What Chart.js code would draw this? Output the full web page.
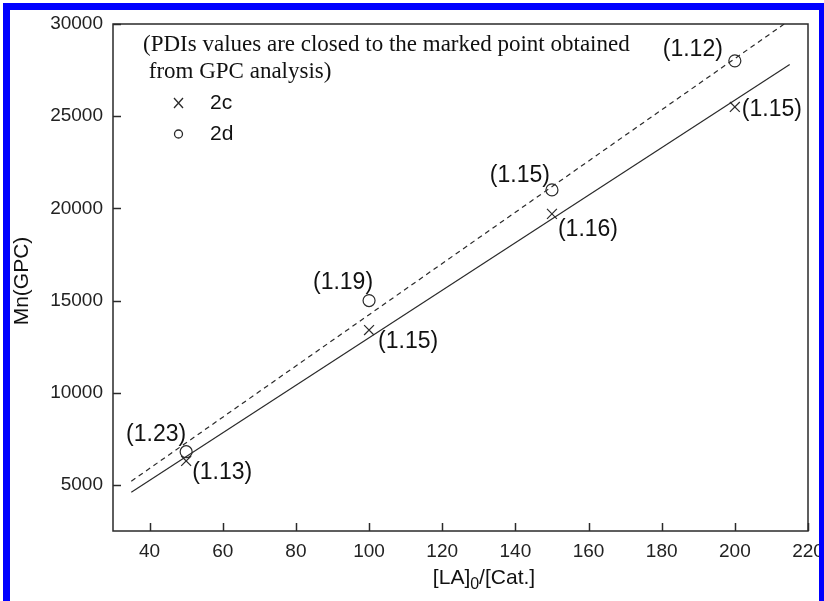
<!DOCTYPE html>
<html><head><meta charset="utf-8">
<script src="https://cdn.jsdelivr.net/npm/chart.js@4.4.0/dist/chart.umd.min.js"></script>
<style>
html,body{margin:0;padding:0;background:#fff;overflow:hidden}
#wrap{position:relative;width:824px;height:601px}
#frame{position:absolute;left:3px;top:3px;width:809px;height:640px;border:7px solid #0000ff;pointer-events:none}
canvas{display:block}
</style></head><body>
<div id="wrap"><canvas id="c" width="824" height="601"></canvas><div id="frame"></div></div>
<script>
// ---- data ----
const ratio = [50, 100, 150, 200];
const mn2c = [6300, 13400, 19700, 25500];
const mn2d = [6800, 15000, 21000, 28000];
const pdi2c = ['(1.13)', '(1.15)', '(1.16)', '(1.15)'];
const pdi2d = ['(1.23)', '(1.19)', '(1.15)', '(1.12)'];
const fit2cX = [35, 215];
const fit2cY = [4600, 27800];
const fit2dX = [35, 213.5];
const fit2dY = [5200, 30000];
const xTicks = [40, 60, 80, 100, 120, 140, 160, 180, 200, 220];
const yTicks = [5000, 10000, 15000, 20000, 25000, 30000];
const seriesNames = ['2c', '2d'];
const noteLines = ['(PDIs values are closed to the marked point obtained', ' from GPC analysis)'];
const yTitle = 'Mn(GPC)';
const xTitleParts = ['[LA]', '0', '/[Cat.]'];

// ---- presentation ----
const INK = '#2a2a2a';
const SANS = '"Liberation Sans", Arial, sans-serif';
const SERIF = '"Liberation Serif", "Times New Roman", serif';
const toPts = (xs, ys) => xs.map((x, i) => ({x: x, y: ys[i]}));

// label placement per point: [dx, dy, align]
const place2c = [[6, 12, 'left'], [9, 12, 'left'], [6, 16, 'left'], [7, 3, 'left']];
const place2d = [[0, -17, 'right'], [4, -18, 'right'], [-2, -14, 'right'], [-12, -11, 'right']];

const decor = {
  id: 'decor',
  afterDatasetsDraw(chart) {
    const ctx = chart.ctx, a = chart.chartArea;
    const xs = chart.scales.x, ys = chart.scales.y;
    ctx.save();
    // frame
    ctx.strokeStyle = INK; ctx.lineWidth = 1.5;
    ctx.strokeRect(a.left, a.top, a.right - a.left, a.bottom - a.top);
    // inward ticks
    xs.ticks.forEach(t => {
      const px = Math.round(xs.getPixelForValue(t.value)) + 0.5;
      ctx.beginPath(); ctx.moveTo(px, a.bottom); ctx.lineTo(px, a.bottom - 8); ctx.stroke();
    });
    ys.ticks.forEach(t => {
      const py = Math.round(ys.getPixelForValue(t.value)) + 0.5;
      ctx.beginPath(); ctx.moveTo(a.left, py); ctx.lineTo(a.left + 8, py); ctx.stroke();
    });
    // PDI labels
    ctx.fillStyle = '#111';
    ctx.font = '23px ' + SANS;
    ctx.textBaseline = 'middle';
    const lab = (meta, texts, pl) => {
      meta.data.forEach((el, i) => {
        ctx.textAlign = pl[i][2];
        ctx.fillText(texts[i], el.x + pl[i][0], el.y + pl[i][1]);
      });
    };
    lab(chart.getDatasetMeta(0), pdi2c, place2c);
    lab(chart.getDatasetMeta(1), pdi2d, place2d);
    // note
    ctx.textAlign = 'left';
    ctx.font = '23px ' + SERIF;
    ctx.fillText(noteLines[0], 143, 45);
    ctx.fillText(noteLines[1], 143, 72);
    // legend
    ctx.strokeStyle = INK; ctx.lineWidth = 1.3;
    ctx.beginPath();
    ctx.moveTo(174, 98); ctx.lineTo(183, 108);
    ctx.moveTo(183, 98); ctx.lineTo(174, 108);
    ctx.stroke();
    ctx.beginPath(); ctx.arc(178.5, 134, 4, 0, Math.PI * 2); ctx.stroke();
    ctx.font = '21px ' + SANS;
    ctx.fillText(seriesNames[0], 210, 103);
    ctx.fillText(seriesNames[1], 210, 134);
    // y title
    ctx.save();
    ctx.translate(22, 281); ctx.rotate(-Math.PI / 2);
    ctx.textAlign = 'center';
    ctx.font = '21px ' + SANS;
    ctx.fillText(yTitle, 0, 0);
    ctx.restore();
    // x title with subscript
    ctx.font = '21px ' + SANS;
    const w0 = ctx.measureText(xTitleParts[0]).width;
    const w2 = ctx.measureText(xTitleParts[2]).width;
    ctx.font = '16px ' + SANS;
    const w1 = ctx.measureText(xTitleParts[1]).width;
    let sx = 484 - (w0 + w1 + w2) / 2;
    const by = 578;
    ctx.font = '21px ' + SANS;
    ctx.fillText(xTitleParts[0], sx, by);
    ctx.font = '16px ' + SANS;
    ctx.fillText(xTitleParts[1], sx + w0, by + 7);
    ctx.font = '21px ' + SANS;
    ctx.fillText(xTitleParts[2], sx + w0 + w1, by);
    ctx.restore();
  }
};

new Chart(document.getElementById('c'), {
  type: 'scatter',
  data: {
    datasets: [
      {label: seriesNames[0], data: toPts(ratio, mn2c), pointStyle: 'crossRot', pointRadius: 7,
       borderColor: INK, backgroundColor: INK, pointBorderWidth: 1.2, showLine: false},
      {label: seriesNames[1], data: toPts(ratio, mn2d), pointStyle: 'circle', pointRadius: 6,
       borderColor: INK, backgroundColor: 'rgba(0,0,0,0)', pointBorderWidth: 1.2, showLine: false},
      {label: 'fit 2c', data: toPts(fit2cX, fit2cY), showLine: true, pointRadius: 0,
       borderColor: INK, borderWidth: 1.2},
      {label: 'fit 2d', data: toPts(fit2dX, fit2dY), showLine: true, pointRadius: 0,
       borderColor: INK, borderWidth: 1.2, borderDash: [5, 4]}
    ]
  },
  options: {
    responsive: false, animation: false, devicePixelRatio: 1,
    layout: {padding: {left: 0, top: 24, right: 16, bottom: 0}},
    plugins: {legend: {display: false}, tooltip: {enabled: false}, title: {display: false}},
    scales: {
      x: {
        type: 'linear', min: 30, max: 220,
        afterBuildTicks: s => { s.ticks = xTicks.map(v => ({value: v})); },
        afterFit: s => { s.height = 70; s.paddingLeft = 0; s.paddingRight = 0; },
        grid: {display: false, drawTicks: false}, border: {display: false},
        ticks: {color: '#222', font: {family: SANS, size: 19}, padding: 9, maxRotation: 0, autoSkip: false,
                callback: v => String(v)}
      },
      y: {
        type: 'linear', min: 2500, max: 30000,
        afterBuildTicks: s => { s.ticks = yTicks.map(v => ({value: v})); },
        afterFit: s => { s.width = 113; s.paddingTop = 0; s.paddingBottom = 0; },
        grid: {display: false, drawTicks: false}, border: {display: false},
        ticks: {color: '#222', font: {family: SANS, size: 19}, padding: 10, callback: v => String(v)}
      }
    }
  },
  plugins: [decor]
});
</script>
</body></html>
